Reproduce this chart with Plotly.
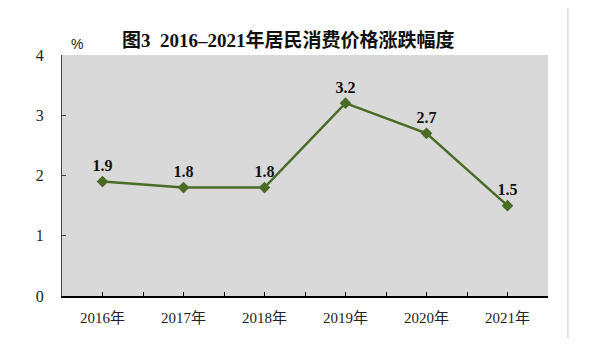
import plotly.graph_objects as go

years = ["2016年", "2017年", "2018年", "2019年", "2020年", "2021年"]
values = [1.9, 1.8, 1.8, 3.2, 2.7, 1.5]
y_ticks = [0, 1, 2, 3, 4]

xpos = list(range(len(years)))
green = "#4a6b26"
serif = "Liberation Serif, Times New Roman, Noto Sans CJK SC, serif"

L, T, PW, PH = 54, 47, 486, 241

fig = go.Figure()
fig.add_trace(go.Scatter(
    x=xpos, y=values, mode="lines+markers+text",
    line=dict(color=green, width=2.5),
    marker=dict(symbol="diamond", size=9, color=green),
    text=[f"{v:.1f}" for v in values], textposition="top center",
    textfont=dict(family=serif, size=16, color="#111111", weight="bold"),
    cliponaxis=False, showlegend=False,
))

fig.update_layout(
    width=600, height=361,
    margin=dict(l=L, r=600 - L - PW, t=T, b=361 - T - PH),
    paper_bgcolor="white", plot_bgcolor="#d9d9d9",
    font=dict(family=serif, color="#222222"),
    title=dict(text="<b>图3  2016–2021年居民消费价格涨跌幅度</b>",
               x=0.467, xanchor="center", y=0.911, yanchor="middle",
               font=dict(family=serif, size=19, color="#111111")),
)
fig.update_xaxes(
    range=[-0.5, 5.5], tickvals=xpos, ticktext=years,
    showgrid=False, zeroline=False, showline=True, linecolor="#000000", linewidth=1.5,
    ticks="inside", ticklen=4, tickcolor="#000000",
    minor=dict(dtick=1, tick0=-0.5, ticks="inside", ticklen=4, tickcolor="#000000", showgrid=False),
    tickfont=dict(family=serif, size=15, color="#222222"),
    ticklabelstandoff=7, fixedrange=True,
)
fig.update_yaxes(
    range=[0, 4], tickvals=y_ticks,
    showgrid=False, zeroline=False, showline=True, linecolor="#444444", linewidth=1,
    ticks="inside", ticklen=4, tickcolor="#444444",
    tickfont=dict(family=serif, size=16, color="#222222"),
    ticklabelstandoff=14,
)
fig.add_annotation(text="%", xref="paper", yref="paper", x=0.031, y=1.046,
                   xanchor="center", yanchor="middle",
                   showarrow=False, font=dict(family="Liberation Sans, Arial", size=14, color="#222222"))
fig.add_shape(type="line", xref="paper", yref="paper",
              x0=1.041, x1=1.041, y0=1.195, y1=-0.174,
              line=dict(color="#c8c8c8", width=1))

fig.write_html("out.html")
